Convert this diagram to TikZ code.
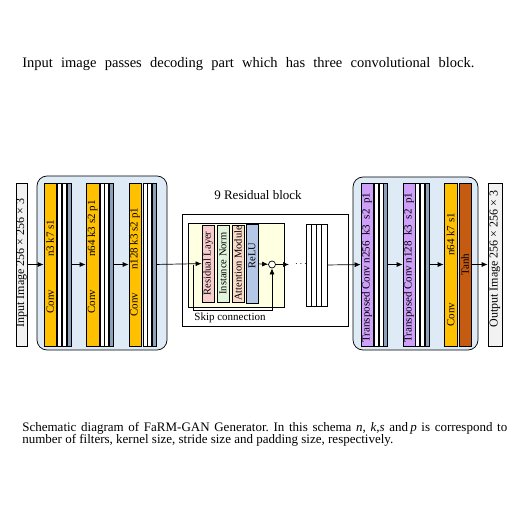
\documentclass[tikz,border=0pt]{standalone}
\usepackage{fontspec}
\setmainfont{Liberation Serif}
\usetikzlibrary{arrows.meta,calc}
\definecolor{convorange}{RGB}{255,192,0}
\definecolor{encblue}{RGB}{222,234,246}
\definecolor{stripgray}{RGB}{140,160,185}
\definecolor{tconvpurple}{RGB}{206,160,250}
\definecolor{tanhbrown}{RGB}{197,90,17}
\definecolor{resyellow}{RGB}{255,255,226}
\definecolor{respink}{RGB}{248,205,205}
\definecolor{normgreen}{RGB}{226,244,220}
\definecolor{attpeach}{RGB}{250,218,200}
\definecolor{relublue}{RGB}{180,199,231}
\definecolor{imggray}{RGB}{242,242,242}
\frenchspacing

\begin{document}
\begin{tikzpicture}[x=1pt, y=-1pt, line width=0.7pt,
    blk/.style={draw=black, rotate=90, minimum width=163pt, inner sep=0pt},
    strip/.style={draw=black, fill=white, minimum width=4pt, minimum height=163pt, inner sep=0pt},
    lbl/.style={rotate=90, anchor=west, inner sep=0pt, font=\fontsize{11}{13}\selectfont},
    arr/.style={-{Latex[length=6pt,width=5pt]}}]
    \useasboundingbox (0,0) rectangle (527,513);

    \node[anchor=base west, inner sep=0pt, font=\fontsize{14.5}{16}\selectfont] (head) at (22,68) {\makebox[452pt][s]{Input image passes decoding part which has three convolutional block.}};

    % encoder
    \draw[fill=encblue, rounded corners=10pt] (37,176) rectangle (167,350);

    \node[blk, fill=imggray, minimum height=11pt] (in) at (21.5,264.5) {};
    \node[lbl, font=\fontsize{12}{14}\selectfont] (inlbl) at (21.5,328) {Input Image 256 × 256 × 3};

    \node[blk, fill=convorange, minimum height=12pt] (c1) at (50,264.5) {};
    \node[lbl] (c1lbl) at (50,314) {Conv\hspace{33pt}n3 k7 s1};
    \foreach \x/\col [count=\i] in {59.5/white, 64/white, 69/stripgray}
        \node[strip, fill=\col] (c1s\i) at (\x,264.5) {};

    \node[blk, fill=convorange, minimum height=13pt] (c2) at (92.5,264.5) {};
    \node[lbl] (c2lbl) at (92.5,314) {Conv\hspace{33pt}n64 k3 s2 p1};
    \foreach \x/\col [count=\i] in {102/white, 106.5/white, 111.25/stripgray}
        \node[strip, fill=\col] (c2s\i) at (\x,264.5) {};

    \node[blk, fill=convorange, minimum height=12pt] (c3) at (135,264.5) {};
    \node[lbl] (c3lbl) at (135,317) {Conv\hspace{23pt}n128 k3 s2 p1};
    \foreach \x/\col [count=\i] in {145/white, 149.5/white, 154/stripgray}
        \node[strip, fill=\col] (c3s\i) at (\x,264.5) {};

    \draw[arr] (in) -- (c1);
    \draw[arr] (c1s3) -- (c2);
    \draw[arr] (c2s3) -- (c3);

    % residual part
    \node[font=\fontsize{13}{15}\selectfont] (restitle) at (258,195) {9 Residual block};
    \draw[fill=white] (182,214) rectangle (348,326);
    \draw[fill=resyellow] (188,223) rectangle (284,307);

    \node[blk, fill=respink, minimum width=77pt, minimum height=12pt, font=\fontsize{10.5}{12}\selectfont] (rl) at (208,263.5) {Residual Layer};
    \node[blk, fill=normgreen, minimum width=77pt, minimum height=12pt, font=\fontsize{10.5}{12}\selectfont] (inorm) at (223,263.5) {Instance Norm};
    \node[blk, fill=attpeach, minimum width=77pt, minimum height=12pt, font=\fontsize{10.5}{12}\selectfont] (att) at (238,263.5) {Attention Module};
    \node[blk, fill=relublue, minimum width=79pt, minimum height=12pt] (relu) at (252,263.5) {};
    \node[lbl, font=\fontsize{10.5}{12}\selectfont] (relulbl) at (252,268.5) {ReLU};

    \node[circle, draw, fill=white, minimum size=7pt, inner sep=0pt] (add) at (272,264.5) {};
    \coordinate (skip) at (193,264.5);
    \coordinate (addout) at (289,264.5);
    \node[inner sep=0pt] (dots) at (301,264.5) {$\cdots$};

    \foreach \x [count=\i] in {308.6,313.9,319.1,324.4}
        \node[strip, minimum width=5.25pt, minimum height=82pt] (st\i) at (\x,265) {};

    \draw[arr] (c3s3) -- (rl);
    \draw[arr] (skip) -- ++(0,45.5) -| (add);
    \draw[arr] (relu) -- (add);
    \draw[arr] (add) -- (addout);
    \node[font=\fontsize{11}{13}\selectfont] (skiplbl) at (230,318) {Skip connection};

    % decoder
    \draw[fill=encblue, rounded corners=10pt] (353,177) rectangle (478,350);

    \node[blk, fill=tconvpurple, minimum height=12pt] (t1) at (367,264.5) {};
    \node[lbl] (t1lbl) at (367,343) {Transposed Conv n256\enspace k3\enspace s2\enspace p1};
    \foreach \x/\col [count=\i] in {376/white, 381/white, 385.75/stripgray}
        \node[strip, fill=\col] (t1s\i) at (\x,264.5) {};

    \node[blk, fill=tconvpurple, minimum height=12pt] (t2) at (409,264.5) {};
    \node[lbl] (t2lbl) at (409,343) {Transposed Conv n128\enspace k3\enspace s2\enspace p1};
    \foreach \x/\col [count=\i] in {417.75/white, 422/white, 427.5/stripgray}
        \node[strip, fill=\col] (t2s\i) at (\x,264.5) {};

    \node[blk, fill=convorange, minimum height=13pt] (c4) at (450.5,264.5) {};
    \node[lbl] (c4lbl) at (450.5,327) {Conv\hspace{47pt}n64 k7 s1};
    \node[blk, fill=tanhbrown, minimum height=12pt, font=\fontsize{11}{13}\selectfont] (tanh) at (465,264.5) {Tanh};

    \node[blk, fill=imggray, minimum height=14pt] (out) at (495,264.5) {};
    \node[lbl, font=\fontsize{12}{14}\selectfont] (outlbl) at (495,328) {Output Image 256 × 256 × 3};

    \draw[arr] (st4) -- (t1);
    \draw[arr] (t1s3) -- (t2);
    \draw[arr] (t2s3) -- (c4);
    \draw[arr] (tanh) -- (out);

    \node[anchor=base west, inner sep=0pt, font=\fontsize{13}{15}\selectfont] (cap1) at (22,431) {\makebox[485pt][s]{Schematic diagram of FaRM-GAN Generator. In this schema \textit{n}, \textit{k},\textit{s} and\,\textit{p} is correspond to}};
    \node[anchor=base west, inner sep=0pt, font=\fontsize{13}{15}\selectfont] (cap2) at (22,443.5) {number of filters, kernel size, stride size and padding size, respectively.};
\end{tikzpicture}
\end{document}
